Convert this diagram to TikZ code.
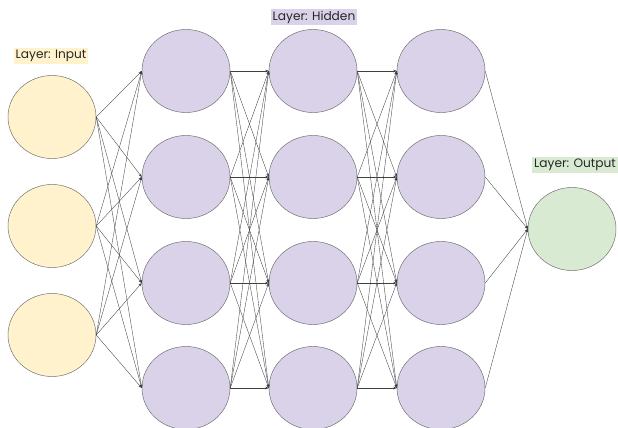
\documentclass[tikz,border=0pt]{standalone}
\usepackage{fontspec}
\setmainfont{Poppins}
\usetikzlibrary{shapes.geometric,arrows.meta}

\definecolor{inyellow}{HTML}{FFF2CC}
\definecolor{hidpurple}{HTML}{D9D2E9}
\definecolor{outgreen}{HTML}{D9EAD3}
\definecolor{rimgray}{HTML}{6B6B6B}

\tikzset{
  neuron/.style={ellipse, draw=rimgray, line width=0.4pt, inner sep=0pt,
    minimum width=2.64cm, minimum height=2.49cm},
  layertag/.style={inner sep=1.5pt, font=\fontsize{10.4}{12}\selectfont, text=black!85},
  wire/.style={draw=black!75, line width=0.3pt, -{Stealth[length=3pt,width=2.2pt]}}
}

\begin{document}
\begin{tikzpicture}[x=0.03cm, y=-0.03cm]
\useasboundingbox (0,0) rectangle (618,428);

% input layer
\node[neuron, fill=inyellow] (in1) at (52,117) {};
\node[neuron, fill=inyellow] (in2) at (52,226) {};
\node[neuron, fill=inyellow] (in3) at (52,335) {};
\node[layertag, fill=inyellow] (tagin) at (51,56) {Layer: Input};

% hidden layers
\foreach \c/\x in {1/186, 2/313, 3/441} {
  \node[neuron, fill=hidpurple] (h\c1) at (\x,71) {};
  \node[neuron, fill=hidpurple] (h\c2) at (\x,177) {};
  \node[neuron, fill=hidpurple] (h\c3) at (\x,283) {};
  \node[neuron, fill=hidpurple] (h\c4) at (\x,388) {};
}
\node[layertag, fill=hidpurple] (taghid) at (314,17) {Layer: Hidden};

% output layer
\node[neuron, fill=outgreen] (out) at (572,229) {};
\node[layertag, fill=outgreen] (tagout) at (575,165) {Layer: Output};

% connections
\foreach \i in {1,2,3}
  \foreach \j in {1,2,3,4}
    \draw[wire] (in\i.east) -- (h1\j.west);
\foreach \i in {1,2,3,4}
  \foreach \j in {1,2,3,4} {
    \draw[wire] (h1\i.east) -- (h2\j.west);
    \draw[wire] (h2\i.east) -- (h3\j.west);
  }
\foreach \i in {1,2,3,4}
  \draw[wire] (h3\i.east) -- (out.west);
\end{tikzpicture}
\end{document}
